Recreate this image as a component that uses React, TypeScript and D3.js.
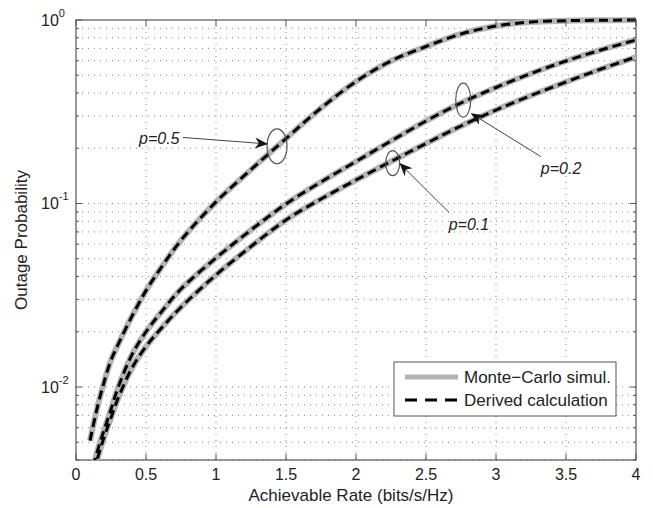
import React from "react";
import * as d3 from "d3";

const rates = [0.1, 0.15, 0.2, 0.25, 0.3, 0.4, 0.5, 0.6, 0.75, 1.0, 1.25, 1.5, 1.75, 2.0, 2.25, 2.5, 2.75, 3.0, 3.25, 3.5, 3.75, 4.0];
const outageP05 = [0.0051, 0.0076, 0.0106, 0.014, 0.017, 0.0243, 0.0335, 0.0438, 0.063, 0.102, 0.153, 0.226, 0.331, 0.462, 0.598, 0.717, 0.839, 0.927, 0.975, 0.991, 0.997, 0.999];
const outageP02 = [0.0031, 0.0044, 0.0058, 0.00755, 0.0099, 0.015, 0.02, 0.0251, 0.0342, 0.0505, 0.0717, 0.0994, 0.131, 0.1694, 0.2191, 0.2816, 0.353, 0.4287, 0.511, 0.5977, 0.6865, 0.778];
const outageP01 = [0.0029, 0.004, 0.0053, 0.0068, 0.00865, 0.0127, 0.0166, 0.0205, 0.0272, 0.0408, 0.0583, 0.0813, 0.1058, 0.1343, 0.1694, 0.2123, 0.2645, 0.3232, 0.3878, 0.4594, 0.5408, 0.6285];

const xTicks = [0, 0.5, 1, 1.5, 2, 2.5, 3, 3.5, 4];
const xTickLabels = ["0", "0.5", "1", "1.5", "2", "2.5", "3", "3.5", "4"];
const yMajor = [1, 0.1, 0.01];
const yExponents = ["0", "-1", "-2"];

const legendLabels = ["Monte\u2212Carlo simul.", "Derived calculation"];
const xLabel = "Achievable Rate (bits/s/Hz)";
const yLabel = "Outage Probability";

const annotations = [
  { label: "p=0.5", center: [1.436, 0.205], rx: 10, ry: 17.5, tail: [0.764, 0.229], tip: [1.371, 0.211], text: [0.45, 0.211], anchor: "start" },
  { label: "p=0.2", center: [2.766, 0.366], rx: 7.5, ry: 17, tail: [3.321, 0.18], tip: [2.821, 0.31], text: [3.32, 0.145], anchor: "start" },
  { label: "p=0.1", center: [2.262, 0.166], rx: 7, ry: 12.5, tail: [2.666, 0.0891], tip: [2.31, 0.166], text: [2.662, 0.0717], anchor: "start" },
];

const W = 653, H = 508;
const L = 76, R = 636, T = 20, B = 460;
const FONT = "'Liberation Sans', Arial, Helvetica, sans-serif";

export default function App() {
  const x = d3.scaleLinear().domain([0, 4]).range([L, R]);
  const y = d3.scaleLog().domain([0.004, 1]).range([B, T]);
  const line = d3.line<number>().x((_, i) => x(rates[i])).y((d) => y(d)).curve(d3.curveCatmullRom.alpha(0.5));
  const series = [outageP05, outageP02, outageP01];

  const minor: number[] = [];
  for (const dec of [0.001, 0.01, 0.1]) {
    for (let k = 2; k <= 9; k++) {
      const v = dec * k;
      if (v >= 0.004 && v <= 1) minor.push(v);
    }
  }
  const allY = [...yMajor, ...minor];
  const gridColor = "#8a8a8a";
  const axisColor = "#555";
  const textColor = "#222";

  const arrowHead = (tail: number[], tip: number[]) => {
    const x1 = x(tail[0]), y1 = y(tail[1]), x2 = x(tip[0]), y2 = y(tip[1]);
    const ang = Math.atan2(y2 - y1, x2 - x1);
    const len = 13, wid = 5.5, back = 4;
    const bx = x2 - len * Math.cos(ang), by = y2 - len * Math.sin(ang);
    const px = -Math.sin(ang), py = Math.cos(ang);
    const ix = x2 - (len - back) * Math.cos(ang), iy = y2 - (len - back) * Math.sin(ang);
    return `M${x2},${y2} L${bx + px * wid},${by + py * wid} L${ix},${iy} L${bx - px * wid},${by - py * wid} Z`;
  };

  return (
    <svg width={W} height={H} style={{ position: "absolute", left: 0, top: 0, background: "#fff" }} fontFamily={FONT}>
      <defs>
        <clipPath id="plotClip">
          <rect x={L} y={T - 5} width={R - L} height={B - T + 5} />
        </clipPath>
      </defs>
      <rect x={0} y={0} width={W} height={H} fill="#fff" />
      {/* grid */}
      <g stroke={gridColor} strokeWidth={1} strokeDasharray="1 5" fill="none">
        {xTicks.slice(1, -1).map((t) => (
          <line key={"gx" + t} x1={x(t)} x2={x(t)} y1={T} y2={B} />
        ))}
        {allY.filter((v) => v < 1).map((v) => (
          <line key={"gy" + v} x1={L} x2={R} y1={y(v)} y2={y(v)} />
        ))}
      </g>
      {/* axes box */}
      <rect x={L} y={T} width={R - L} height={B - T} fill="none" stroke={axisColor} strokeWidth={1.2} />
      {/* curves */}
      <g clipPath="url(#plotClip)" fill="none">
        {series.map((s, i) => (
          <path key={"mc" + i} d={line(s) || ""} stroke="#b4b4b4" strokeWidth={6} strokeLinejoin="round" />
        ))}
        {series.map((s, i) => (
          <path key={"dc" + i} d={line(s) || ""} stroke="#000" strokeWidth={3} strokeDasharray="9 5" />
        ))}
      </g>
      {/* ticks */}
      <g stroke={axisColor} strokeWidth={1}>
        {xTicks.map((t) => (
          <g key={"tx" + t}>
            <line x1={x(t)} x2={x(t)} y1={B} y2={B - 6} />
            <line x1={x(t)} x2={x(t)} y1={T} y2={T + 6} />
          </g>
        ))}
        {yMajor.map((v) => (
          <g key={"tyM" + v}>
            <line x1={L} x2={L + 6} y1={y(v)} y2={y(v)} />
            <line x1={R} x2={R - 6} y1={y(v)} y2={y(v)} />
          </g>
        ))}
        {minor.map((v) => (
          <g key={"tym" + v}>
            <line x1={L} x2={L + 3} y1={y(v)} y2={y(v)} />
            <line x1={R} x2={R - 3} y1={y(v)} y2={y(v)} />
          </g>
        ))}
      </g>
      {/* tick labels */}
      <g fill={textColor} fontSize={16}>
        {xTicks.map((t, i) => (
          <text key={"lx" + t} x={x(t)} y={B + 20} textAnchor="middle">{xTickLabels[i]}</text>
        ))}
        {yMajor.map((v, i) => (
          <text key={"ly" + v} x={41} y={y(v) + 6}>
            10<tspan fontSize={11} dy={-9}>{yExponents[i]}</tspan>
          </text>
        ))}
      </g>
      {/* axis labels */}
      <text x={351} y={501} textAnchor="middle" fontSize={17} fill={textColor}>{xLabel}</text>
      <text transform={`translate(27,${(T + B) / 2}) rotate(-90)`} textAnchor="middle" fontSize={17} fill={textColor}>{yLabel}</text>
      {/* annotations */}
      {annotations.map((a) => (
        <g key={a.label}>
          <ellipse cx={x(a.center[0])} cy={y(a.center[1])} rx={a.rx} ry={a.ry} fill="none" stroke="#555" strokeWidth={1.2} />
          <line x1={x(a.tail[0])} y1={y(a.tail[1])} x2={x(a.tip[0])} y2={y(a.tip[1])} stroke="#444" strokeWidth={1} />
          <path d={arrowHead(a.tail, a.tip)} fill="#111" />
          <text x={x(a.text[0])} y={y(a.text[1])} fontSize={16} fontStyle="italic" fill={textColor} textAnchor={a.anchor}>{a.label}</text>
        </g>
      ))}
      {/* legend */}
      <g>
        <rect x={394} y={362} width={222} height={54} fill="#fff" stroke="#555" strokeWidth={1} />
        <line x1={405} x2={458} y1={377} y2={377} stroke="#b4b4b4" strokeWidth={5} />
        <line x1={405} x2={458} y1={400} y2={400} stroke="#000" strokeWidth={3} strokeDasharray="12 8" />
        <text x={464} y={383} fontSize={17} fill={textColor}>{legendLabels[0]}</text>
        <text x={464} y={406} fontSize={17} fill={textColor}>{legendLabels[1]}</text>
      </g>
    </svg>
  );
}
